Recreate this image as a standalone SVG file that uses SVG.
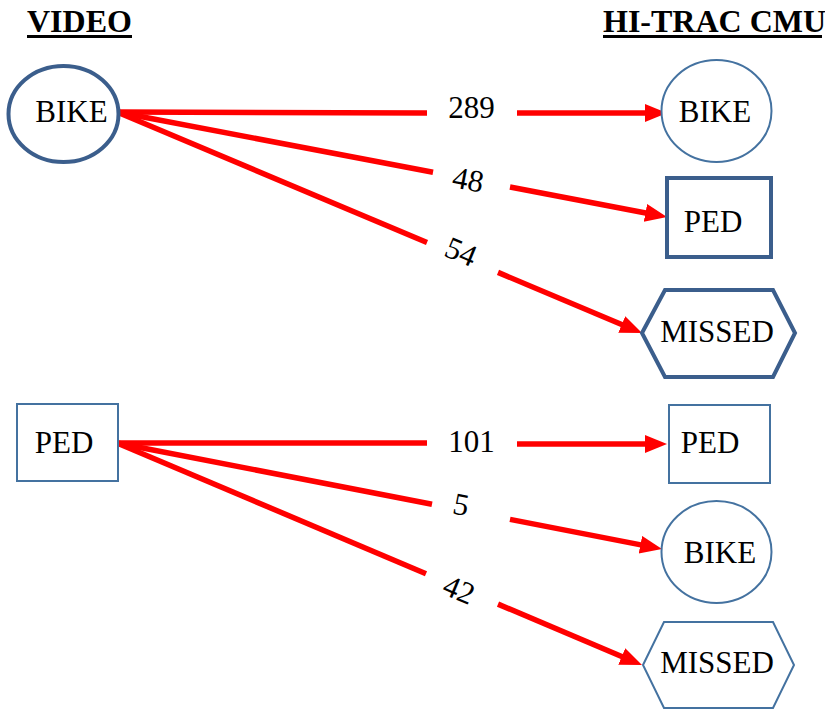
<svg xmlns="http://www.w3.org/2000/svg" width="825" height="710" viewBox="0 0 825 710">
<style>
text{font-family:'Liberation Serif','Times New Roman','DejaVu Serif',serif}
.t{font-size:31px;fill:#000;text-anchor:middle}
.h{font-size:32px;font-weight:bold;fill:#000}
.thick{fill:#fff;stroke:#3b5e8c;stroke-width:4}
.thin{fill:#fff;stroke:#4472a0;stroke-width:2}
.c{stroke:#ff0000;stroke-width:5.5;fill:none}
</style>
<defs>
<marker id="ah" markerUnits="userSpaceOnUse" markerWidth="24" markerHeight="20" refX="7" refY="9" orient="auto">
<path d="M0,0 L22,9 L0,18 z" fill="#ff0000"/>
</marker>
</defs>
<g id="titles">
<text class="h" x="27" y="32" font-family="Liberation Serif, serif">VIDEO</text>
<rect x="27" y="35" width="105" height="3" fill="#000"/>
<text class="h" x="603" y="32" font-family="Liberation Serif, serif">HI-TRAC CMU</text>
<rect x="603" y="35" width="219" height="3" fill="#000"/>
</g>
<g id="connectors">
<line class="c" x1="117" y1="112" x2="427" y2="113"/>
<line class="c" x1="517" y1="113" x2="652" y2="113" marker-end="url(#ah)"/>
<line class="c" x1="117" y1="112" x2="433" y2="172.3"/>
<line class="c" x1="510" y1="187" x2="652.3" y2="214.2" marker-end="url(#ah)"/>
<line class="c" x1="117" y1="112" x2="427" y2="242.5"/>
<line class="c" x1="498" y1="272.4" x2="628.2" y2="327.2" marker-end="url(#ah)"/>
<line class="c" x1="117" y1="443" x2="427" y2="443"/>
<line class="c" x1="517" y1="444" x2="652" y2="444" marker-end="url(#ah)"/>
<line class="c" x1="117" y1="443" x2="432" y2="504.3"/>
<line class="c" x1="510" y1="519.4" x2="647.3" y2="546.1" marker-end="url(#ah)"/>
<line class="c" x1="117" y1="443" x2="426" y2="573.7"/>
<line class="c" x1="498" y1="604.1" x2="628.2" y2="659.2" marker-end="url(#ah)"/>
<text class="t" x="471.5" y="118">289</text>
<text class="t" transform="translate(468,180) rotate(10.8)" y="10">48</text>
<text class="t" transform="translate(461,252) rotate(22.8)" y="10">54</text>
<text class="t" x="471.5" y="452">101</text>
<text class="t" transform="translate(461,505) rotate(11)" y="10">5</text>
<text class="t" transform="translate(459,590) rotate(22.9)" y="10">42</text>
</g>
<g id="video-bike">
<ellipse class="thick" cx="63.5" cy="114" rx="55" ry="48"/>
<text class="t" x="71.5" y="122">BIKE</text>
</g>
<g id="video-ped">
<rect class="thin" x="17" y="404" width="101" height="77"/>
<text class="t" x="64" y="453">PED</text>
</g>
<g id="cmu-bike-1">
<ellipse class="thin" cx="716.5" cy="111" rx="55" ry="51"/>
<text class="t" x="715" y="122">BIKE</text>
</g>
<g id="cmu-ped-1">
<rect class="thick" x="667" y="178" width="104" height="79"/>
<text class="t" x="713" y="232">PED</text>
</g>
<g id="cmu-missed-1">
<polygon class="thick" points="642,333 665,290 773,290 795,333 773,377 665,377"/>
<text class="t" x="717" y="342">MISSED</text>
</g>
<g id="cmu-ped-2">
<rect class="thin" x="669" y="405" width="101" height="78"/>
<text class="t" x="710" y="453">PED</text>
</g>
<g id="cmu-bike-2">
<ellipse class="thin" cx="716.5" cy="552" rx="55" ry="51"/>
<text class="t" x="720" y="563">BIKE</text>
</g>
<g id="cmu-missed-2">
<polygon class="thin" points="643,665 664,622 773,622 794,665 773,708 664,708"/>
<text class="t" x="717" y="673">MISSED</text>
</g>
</svg>
